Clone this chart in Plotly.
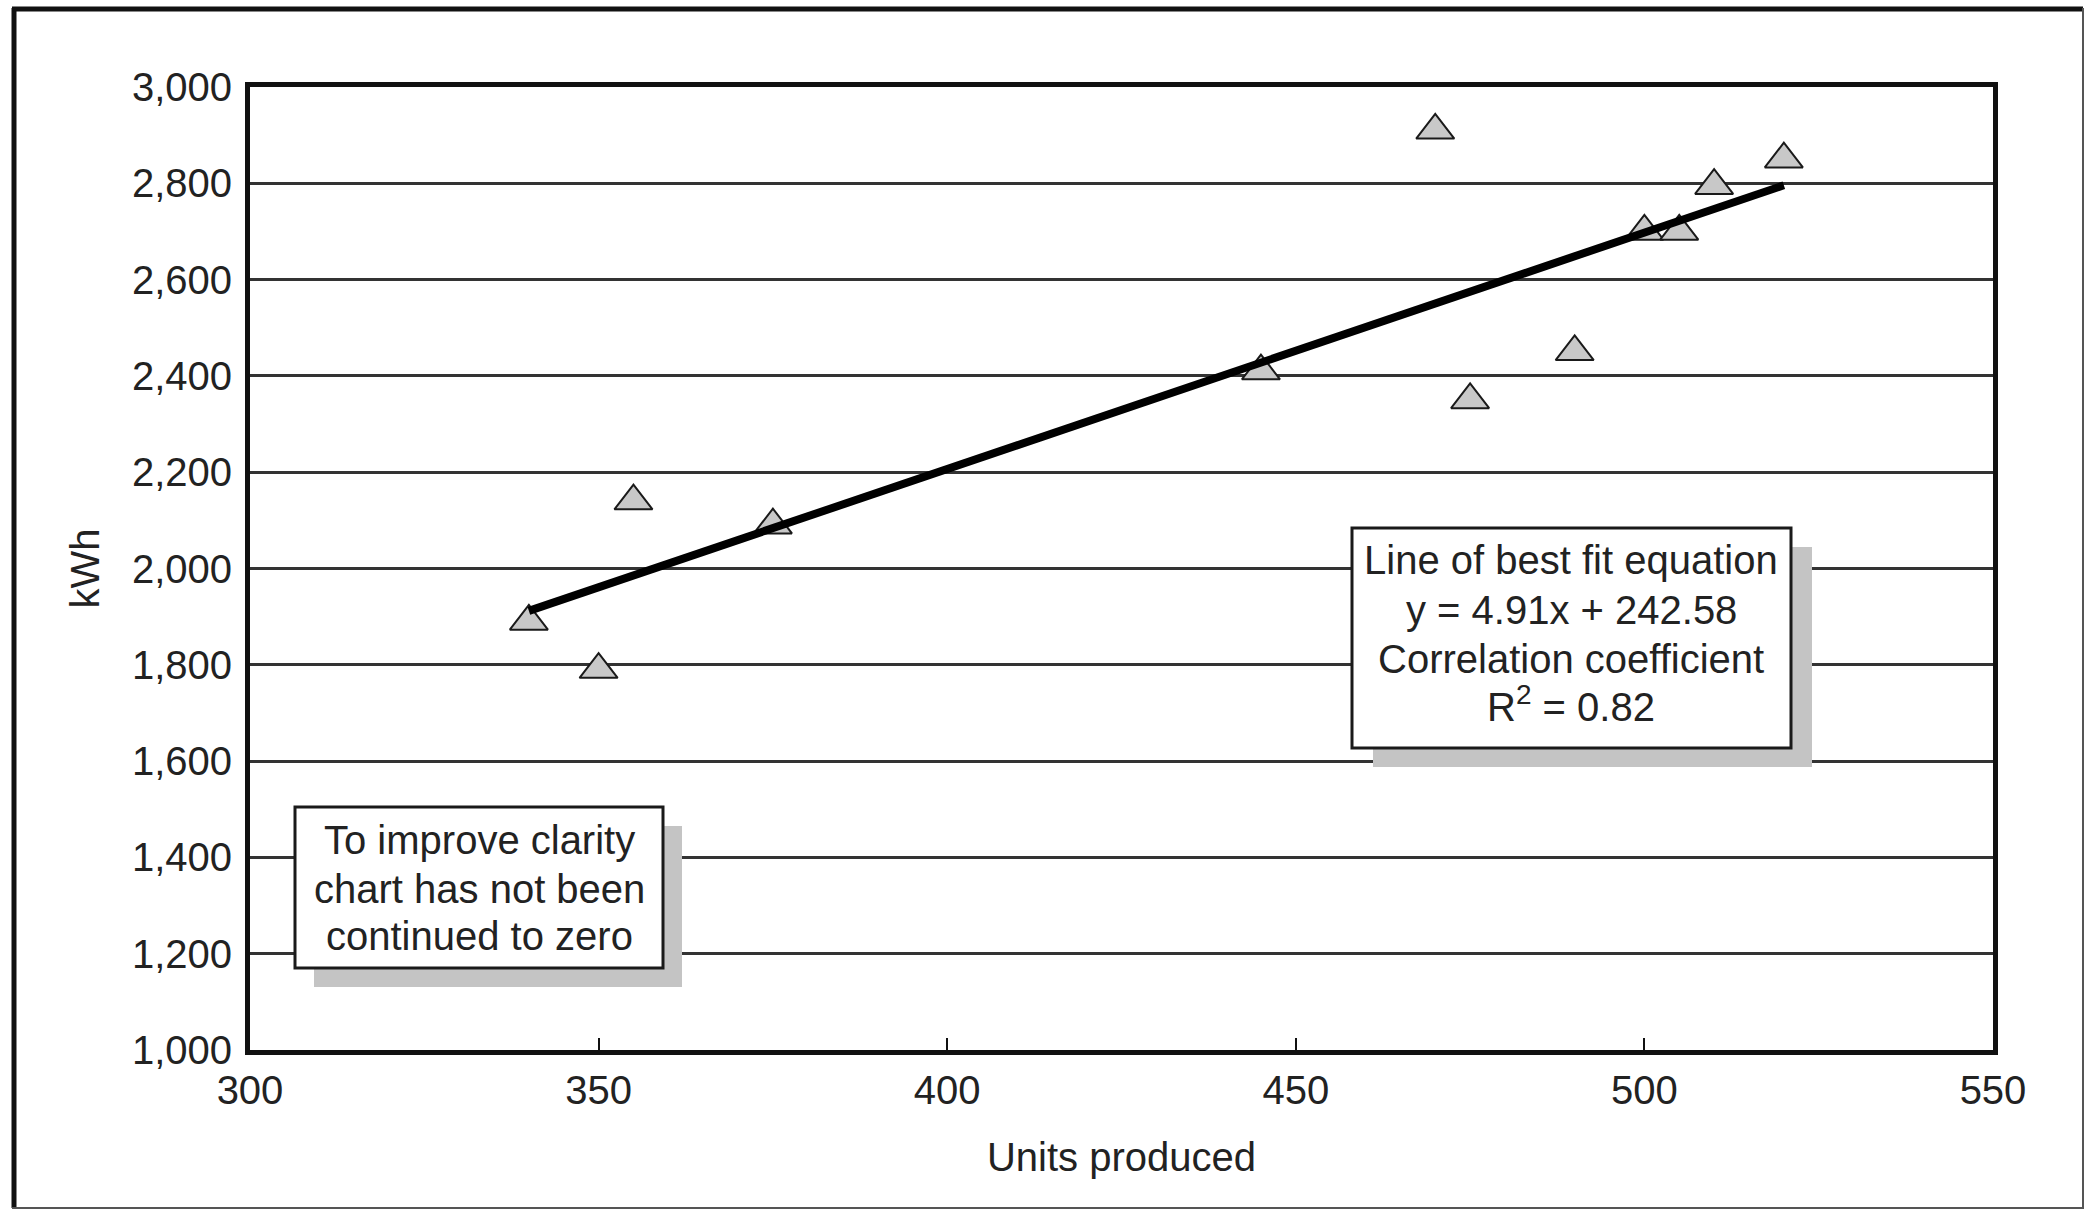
import plotly.graph_objects as go

# ---------------- data ----------------
units_produced = [340, 350, 355, 375, 445, 470, 475, 490, 500, 505, 510, 520]
kwh = [1890, 1790, 2140, 2090, 2410, 2910, 2350, 2450, 2700, 2700, 2795, 2850]

fit_slope = 4.91
fit_intercept = 242.58
r_squared = 0.82

x_ticks = [300, 350, 400, 450, 500, 550]
x_tick_labels = ["300", "350", "400", "450", "500", "550"]
y_ticks = [1000, 1200, 1400, 1600, 1800, 2000, 2200, 2400, 2600, 2800, 3000]
y_tick_labels = ["1,000", "1,200", "1,400", "1,600", "1,800", "2,000",
                 "2,200", "2,400", "2,600", "2,800", "3,000"]

x_title = "Units produced"
y_title = "kWh"
fit_lines = ["Line of best fit equation",
             f"y = {fit_slope}x + {fit_intercept}",
             "Correlation coefficient",
             f"R<sup>2</sup> = {r_squared}"]
note_lines = ["To improve clarity", "chart has not been", "continued to zero"]

# ---------------- layout geometry (pixels) ----------------
W, H = 2090, 1211
L, R, T, B = 250, 1993, 87, 1050
FONT = "Liberation Sans, Arial, Helvetica, sans-serif"
TXT = "#222222"
FS = 40


def px_x(p):
    return (p - L) / (R - L)


def px_y(p):
    return (B - p) / (B - T)


fit_x = [min(units_produced), max(units_produced)]
fit_y = [fit_slope * v + fit_intercept for v in fit_x]

fig = go.Figure()
fig.add_trace(go.Scatter(
    x=units_produced, y=kwh, mode="markers",
    marker=dict(symbol="triangle-up", size=33, color="#c8c8c8",
                line=dict(color="#1a1a1a", width=2)),
    showlegend=False, hoverinfo="x+y"))
fig.add_trace(go.Scatter(
    x=fit_x, y=fit_y, mode="lines",
    line=dict(color="#000000", width=8),
    showlegend=False, hoverinfo="skip"))

shapes = []
# outer frame
shapes.append(dict(type="line", xref="paper", yref="paper", layer="above",
                   x0=px_x(14), x1=px_x(14), y0=px_y(8), y1=px_y(1208),
                   line=dict(color="#111111", width=5)))
shapes.append(dict(type="line", xref="paper", yref="paper", layer="above",
                   x0=px_x(12), x1=px_x(2083), y0=px_y(9), y1=px_y(9),
                   line=dict(color="#111111", width=5)))
shapes.append(dict(type="line", xref="paper", yref="paper", layer="above",
                   x0=px_x(2083), x1=px_x(2083), y0=px_y(8), y1=px_y(1208),
                   line=dict(color="#555555", width=2)))
shapes.append(dict(type="line", xref="paper", yref="paper", layer="above",
                   x0=px_x(12), x1=px_x(2084), y0=px_y(1208), y1=px_y(1208),
                   line=dict(color="#555555", width=2)))


def box(x0, y0, x1, y1, dx=21, dy=19):
    shapes.append(dict(type="rect", xref="paper", yref="paper", layer="above",
                       x0=px_x(x0 + dx), x1=px_x(x1 + dx), y0=px_y(y0 + dy), y1=px_y(y1 + dy),
                       fillcolor="#c4c4c4", line=dict(width=0)))
    shapes.append(dict(type="rect", xref="paper", yref="paper", layer="above",
                       x0=px_x(x0), x1=px_x(x1), y0=px_y(y0), y1=px_y(y1),
                       fillcolor="#ffffff", line=dict(color="#1a1a1a", width=3)))


box(1352, 528, 1791, 748)
box(295, 807, 663, 968, dx=19, dy=19)

annotations = []
for text, cy in zip(fit_lines, [560, 610, 659, 704]):
    annotations.append(dict(text=text, xref="paper", yref="paper",
                            x=px_x(1571), y=px_y(cy), xanchor="center", yanchor="middle",
                            showarrow=False, font=dict(family=FONT, size=FS, color=TXT)))
for text, cy in zip(note_lines, [840, 889, 936]):
    annotations.append(dict(text=text, xref="paper", yref="paper",
                            x=px_x(479), y=px_y(cy), xanchor="center", yanchor="middle",
                            showarrow=False, font=dict(family=FONT, size=FS, color=TXT)))

fig.update_layout(
    width=W, height=H,
    margin=dict(l=L, r=W - R, t=T, b=H - B, autoexpand=False),
    paper_bgcolor="#ffffff", plot_bgcolor="#ffffff",
    font=dict(family=FONT, size=FS, color=TXT),
    shapes=shapes, annotations=annotations,
    xaxis=dict(range=[300, 550], tickvals=x_ticks, ticktext=x_tick_labels,
               showgrid=False, zeroline=False,
               ticks="inside", ticklen=12, tickwidth=2, tickcolor="#111111",
               showline=True, linewidth=5, linecolor="#111111", mirror=True,
               tickfont=dict(family=FONT, size=FS, color=TXT),
               ticklabelstandoff=1,
               title=dict(text=x_title, font=dict(family=FONT, size=FS, color=TXT), standoff=33)),
    yaxis=dict(range=[1000, 3000], tickvals=y_ticks, ticktext=y_tick_labels,
               showgrid=True, gridcolor="#333333", gridwidth=3, zeroline=False,
               ticks="", showline=True, linewidth=5, linecolor="#111111", mirror=True,
               tickfont=dict(family=FONT, size=FS, color=TXT),
               ticklabelstandoff=5,
               title=dict(text=y_title, font=dict(family=FONT, size=FS, color=TXT), standoff=21)),
)

fig.write_html("out.html", config={"displayModeBar": False},
               post_script="document.body.style.margin='0px';")
